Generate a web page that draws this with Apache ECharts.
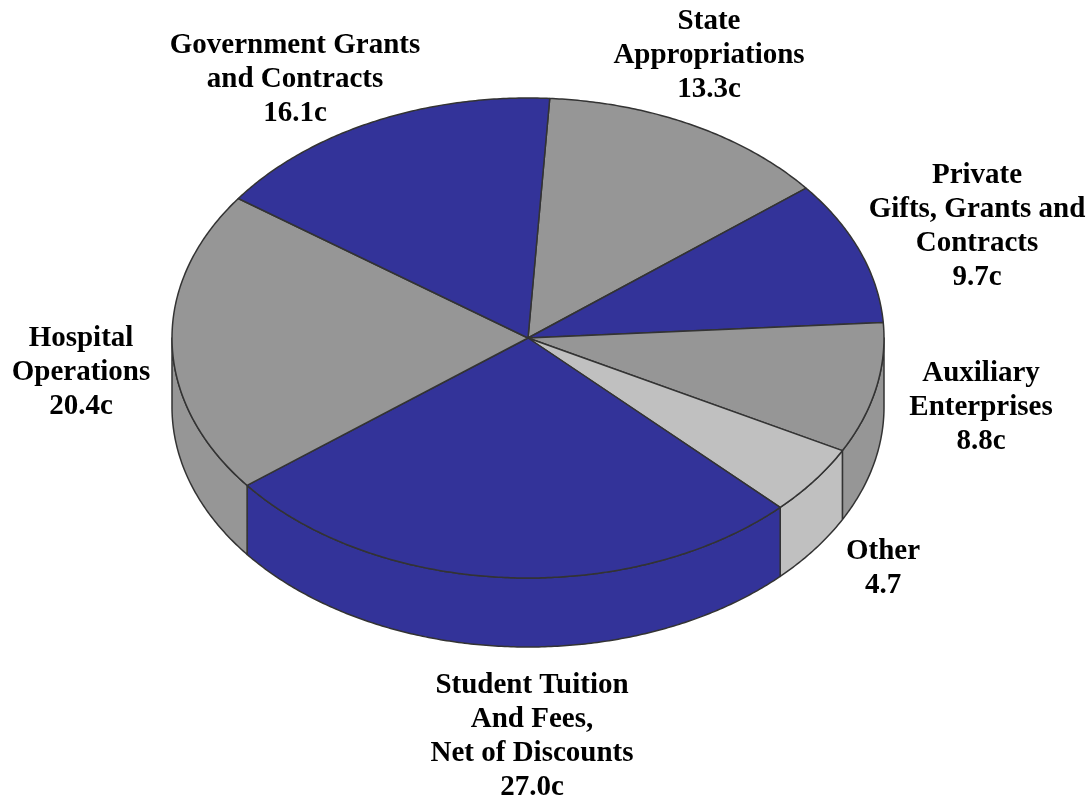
<!DOCTYPE html>
<html>
<head>
<meta charset="utf-8">
<style>html,body{margin:0;padding:0;background:#fff}#chart{width:1092px;height:801px}</style>
<script src="https://cdn.jsdelivr.net/npm/echarts@6/dist/echarts.min.js"></script>
</head>
<body>
<div id="chart"></div>
<script>
// Revenue sources, in cents per dollar, clockwise from the top of the disc.
const categories = [
  'State\nAppropriations',
  'Private\nGifts, Grants and\nContracts',
  'Auxiliary\nEnterprises',
  'Other',
  'Student Tuition\nAnd Fees,\nNet of Discounts',
  'Hospital\nOperations',
  'Government Grants\nand Contracts'
];
const values = [13.3, 9.7, 8.8, 4.7, 27.0, 20.4, 16.1];
const units = ['c', 'c', 'c', '', 'c', 'c', 'c'];

const sliceColors = ['#969696', '#333399', '#969696', '#c0c0c0', '#333399', '#969696', '#333399'];
const labelCenters = [[709, 55], [977, 226], [981, 407], [883, 568], [532, 736], [81, 372], [295, 79]];

const disc = { cx: 528, cy: 338, rx: 356, ry: 240, depth: 69, startDeg: 86.5 };
const outline = { stroke: '#333333', lineWidth: 1.5 };
const total = values.reduce((a, b) => a + b, 0);

// Point on the disc rim at an angle in degrees, dropped by an optional height.
function rim(deg, drop) {
  const t = deg * Math.PI / 180;
  return [disc.cx + disc.rx * Math.cos(t), disc.cy - disc.ry * Math.sin(t) + (drop || 0)];
}
function arc(from, to, drop) {
  const n = Math.max(2, Math.ceil(Math.abs(to - from) * 2));
  const pts = [];
  for (let i = 0; i <= n; i++) pts.push(rim(from + (to - from) * i / n, drop));
  return pts;
}
// Angular span of the slice at a data index, running clockwise.
function span(index) {
  let before = 0;
  for (let i = 0; i < index; i++) before += values[i];
  const a = disc.startDeg - before / total * 360;
  return [a, a - values[index] / total * 360];
}
const row = (v, i) => ({ value: [i, v] });

const option = {
  animation: false,
  backgroundColor: '#ffffff',
  series: [
    {
      // Outer wall, visible only along the lower half of the rim.
      type: 'custom',
      coordinateSystem: 'none',
      silent: true,
      z: 1,
      data: values.map(row),
      renderItem: (params, api) => {
        const i = api.value(0);
        let [a, b] = span(i);
        // Shift the span so its lower-half portion lies in [-180, 0].
        if (a < -180) { a += 360; b += 360; }
        const from = Math.min(a, 0);
        const to = Math.max(b, -180);
        if (from <= to) return { type: 'group', children: [] };
        return {
          type: 'polygon',
          shape: { points: arc(from, to, 0).concat(arc(to, from, disc.depth)) },
          style: Object.assign({ fill: sliceColors[i], lineJoin: 'round' }, outline)
        };
      }
    },
    {
      // Top face of the disc.
      type: 'custom',
      coordinateSystem: 'none',
      silent: true,
      z: 2,
      data: values.map(row),
      renderItem: (params, api) => {
        const i = api.value(0);
        const [a, b] = span(i);
        return {
          type: 'polygon',
          shape: { points: [[disc.cx, disc.cy]].concat(arc(a, b, 0)) },
          style: Object.assign({ fill: sliceColors[i], lineJoin: 'round' }, outline)
        };
      }
    },
    {
      // Category name with its value underneath.
      type: 'custom',
      coordinateSystem: 'none',
      silent: true,
      z: 3,
      data: values.map(row),
      renderItem: (params, api) => {
        const i = api.value(0);
        return {
          type: 'text',
          x: labelCenters[i][0],
          y: labelCenters[i][1] + 1,
          style: {
            text: categories[i] + '\n' + api.value(1).toFixed(1) + units[i],
            fill: '#000000',
            font: 'bold 29px "Liberation Serif", serif',
            lineHeight: 34,
            align: 'center',
            verticalAlign: 'middle'
          }
        };
      }
    }
  ]
};

echarts.init(document.getElementById('chart'), null, { renderer: 'canvas' }).setOption(option);
</script>
</body>
</html>
